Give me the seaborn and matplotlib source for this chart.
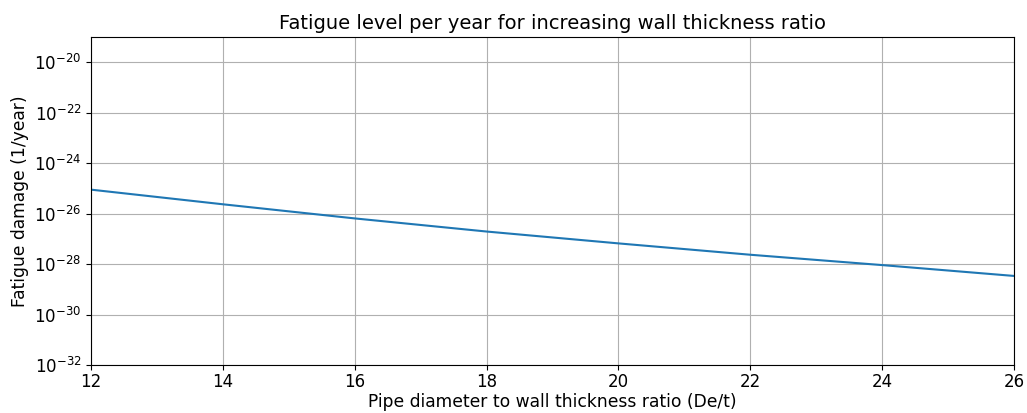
import numpy as np
import pandas as pd
import matplotlib
matplotlib.use("Agg")
import matplotlib.pyplot as plt
import seaborn as sns

ratio = [12, 14, 16, 18, 20, 22, 24, 26]
log_damage = [-25.05, -25.63, -26.19, -26.71, -27.18, -27.63, -28.04, -28.47]
damage = [10.0 ** v for v in log_damage]

df = pd.DataFrame({"ratio": ratio, "damage": damage})

plt.rcParams.update(matplotlib.rcParamsDefault)
plt.rcParams['font.family'] = ['DejaVu Sans']

fig = plt.figure(figsize=(10.27, 4.13), dpi=100)
ax = fig.add_axes([91/1027, 1-365/413, (1014-91)/1027, (365-37)/413])
sns.lineplot(data=df, x="ratio", y="damage", ax=ax, color="#1f77b4", linewidth=1.5)
ax.set_yscale("log")
ax.set_xlim(12, 26)
ax.set_ylim(1e-32, 1e-19)
ax.set_yticks([10.0 ** e for e in range(-32, -19, 2)])
ax.minorticks_off()
ax.grid(True, color="#b0b0b0", linewidth=0.8)
for s in ax.spines.values():
    s.set_color("black")
    s.set_linewidth(0.8)
ax.tick_params(labelsize=12, direction="out", length=3.5, width=0.8, color="black", labelcolor="black")
ax.tick_params(axis="x", pad=2.5)
ax.set_xlabel("Pipe diameter to wall thickness ratio (De/t)", fontsize=12.3, color="black", labelpad=1.5)
ax.set_ylabel("Fatigue damage (1/year)", fontsize=12.3, color="black")
ax.set_title("Fatigue level per year for increasing wall thickness ratio", fontsize=14, color="black")
fig.savefig("out.png", dpi=100)
